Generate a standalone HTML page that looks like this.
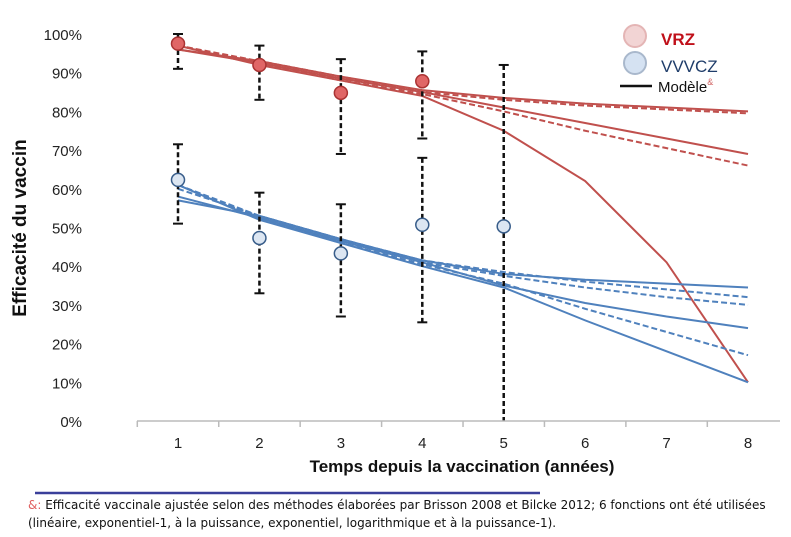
<!DOCTYPE html>
<html><head><meta charset="utf-8"><style>
body{margin:0;background:#fff;width:791px;height:537px;overflow:hidden;font-family:"Liberation Sans","DejaVu Sans",sans-serif}
svg{position:absolute;left:0;top:0}
</style></head><body>
<svg id="chart" width="791" height="537">
<g id="lines"></g>
<g id="errs"></g>
<g id="pts"></g>
<g id="axes"></g>
<text x="0" y="0" transform="translate(26,228) rotate(-90)" text-anchor="middle" font-size="19" font-weight="bold" fill="#111">Efficacité du vaccin</text>
<text x="462" y="472" text-anchor="middle" font-size="17" font-weight="bold" fill="#111">Temps depuis la vaccination (années)</text>
<g>
<circle cx="635" cy="36" r="11" fill="#f2d4d4" stroke="#e4b5b5" stroke-width="2"/>
<text x="661" y="45" font-size="17" font-weight="bold" fill="#c0101a">VRZ</text>
<circle cx="635" cy="63" r="11" fill="#d5e2f2" stroke="#a9b8cc" stroke-width="2"/>
<text x="661" y="72" font-size="17" fill="#1f3d6a">VVVCZ</text>
<line x1="620" y1="86" x2="652" y2="86" stroke="#111" stroke-width="2.5"/>
<text x="658" y="92" font-size="15" fill="#111">Modèle<tspan font-size="9" dy="-7" fill="#d06060">&amp;</tspan></text>
</g>
<line x1="35" y1="493" x2="540" y2="493" stroke="#3a3f9a" stroke-width="2.5"/>
<text x="28" y="509" font-size="12" font-family="DejaVu Sans, sans-serif" fill="#111"><tspan fill="#e06060">&amp;:</tspan> Efficacité vaccinale ajustée selon des méthodes élaborées par Brisson 2008 et Bilcke 2012; 6 fonctions ont été utilisées</text>
<text x="28" y="527" font-size="12" font-family="DejaVu Sans, sans-serif" fill="#111">(linéaire, exponentiel-1, à la puissance, exponentiel, logarithmique et à la puissance-1).</text>
</svg>
<script>
const years=[1,2,3,4,5,6,7,8];
const yTicks=[0,10,20,30,40,50,60,70,80,90,100];
const redSolid1=[96,93,89,85.5,83.5,82,81,80];
const redDash1=[97,93,89,85,83,81.5,80.5,79.5];
const redSolid2=[96,92.5,88.5,85,81,77,73,69];
const redDash2=[97,92.5,88,84.5,80,75,70.5,66];
const redSolid3=[97,92,88,84,75,62,41,10];
const blueSolid1=[57,53,47,41.5,38,36.5,35.5,34.5];
const blueDash1=[60,53,47,41.5,38.5,36,34,32];
const blueDash2=[61,53,47,41,37.5,34.5,32,30];
const blueSolid2=[58,52.5,46.5,41,35,30.5,27,24];
const blueDash3=[61,52.5,46,40.5,35.5,29,23,17];
const blueSolid3=[61,52,46,40,34.5,26,18,10];
const vrzYears=[1,2,3,4];
const vrzVals=[97.5,92,84.8,87.8];
const vrzLow=[91,83,69,73];
const vrzHigh=[100,97,93.5,95.5];
const vvvczYears=[1,2,3,4,5];
const vvvczVals=[62.3,47.3,43.3,50.7,50.3];
const vvvczLow=[51,33,27,25.5,0];
const vvvczHigh=[71.5,59,56,68,92];

const NS='http://www.w3.org/2000/svg';
const xS=v=>178+(v-1)*81.43;
const yS=v=>421-v*3.87;
function mk(p,t,a){const e=document.createElementNS(NS,t);for(const k in a)e.setAttribute(k,a[k]);p.appendChild(e);return e;}
const axes=document.getElementById('axes'),lines=document.getElementById('lines'),errs=document.getElementById('errs'),pts=document.getElementById('pts');
yTicks.forEach(t=>{
 const l=mk(axes,'text',{x:82,y:yS(t)+6,'text-anchor':'end','font-size':15,fill:'#222'});l.textContent=t+'%';
 
 
});
const ax=mk(axes,'line',{x1:137,x2:780,y1:421,y2:421,stroke:'#bbb','stroke-width':1.5});


years.forEach(y=>{
 const tk=mk(axes,'line',{x1:xS(y)-40.7,x2:xS(y)-40.7,y1:421,y2:427,stroke:'#bbb','stroke-width':1.5});
 
 
 const l=mk(axes,'text',{x:xS(y),y:448,'text-anchor':'middle','font-size':15,fill:'#222'});l.textContent=y;
 
 
});
const series=[[redSolid1,'#c0504d',0,'red-model-1'],[redDash1,'#c0504d',1,'red-model-2'],[redSolid2,'#c0504d',0,'red-model-3'],[redDash2,'#c0504d',1,'red-model-4'],[redSolid3,'#c0504d',0,'red-model-5'],
[blueSolid1,'#4f81bd',0,'blue-model-1'],[blueDash1,'#4f81bd',1,'blue-model-2'],[blueDash2,'#4f81bd',1,'blue-model-3'],[blueSolid2,'#4f81bd',0,'blue-model-4'],[blueDash3,'#4f81bd',1,'blue-model-5'],[blueSolid3,'#4f81bd',0,'blue-model-6']];
series.forEach(s=>{
 const p=mk(lines,'polyline',{points:s[0].map((v,i)=>xS(years[i])+','+yS(v)).join(' '),fill:'none',stroke:s[1],'stroke-width':2,'stroke-dasharray':s[2]?'6,3':'none'});
 
 
});
function eb(ys,lo,hi,nm){ys.forEach((y,i)=>{
 const x=xS(y);
 const l=mk(errs,'line',{x1:x,x2:x,y1:yS(hi[i]),y2:yS(lo[i]),stroke:'#111','stroke-width':2.5,'stroke-dasharray':'5,3'});
 
 
 [hi[i],lo[i]].forEach(v=>{if(v>0)mk(errs,'line',{x1:x-5,x2:x+5,y1:yS(v),y2:yS(v),stroke:'#111','stroke-width':2});});
});}
eb(vrzYears,vrzLow,vrzHigh,'vrz');eb(vvvczYears,vvvczLow,vvvczHigh,'vvvcz');
vrzYears.forEach((y,i)=>{const c=mk(pts,'circle',{cx:xS(y),cy:yS(vrzVals[i]),r:6.5,fill:'#e06666',stroke:'#a33',"stroke-width":1.5});
 
 });
vvvczYears.forEach((y,i)=>{const c=mk(pts,'circle',{cx:xS(y),cy:yS(vvvczVals[i]),r:6.5,fill:'#dce6f2',stroke:'#385d8a',"stroke-width":1.5});
 
 });
</script>
</body></html>
